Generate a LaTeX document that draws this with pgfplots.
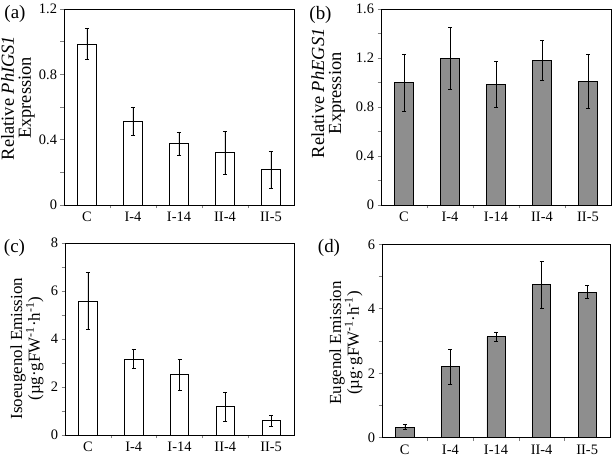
\documentclass[border=0pt]{standalone}
\usepackage{fontspec}
\setmainfont{Liberation Serif}
\usepackage{pgfplots}
\pgfplotsset{compat=1.18}
\definecolor{barg}{RGB}{142,142,142}
\pgfplotsset{
  panel/.style={
    scale only axis, anchor=south west,
    xmin=-0.5, xmax=4.5, ymin=0,
    xtick={0,1,2,3,4},
    xticklabels={C,I-4,I-14,II-4,II-5},
    minor x tick num=1,
    major x tick style={draw=none},
    tick align=outside, tick pos=left,
    major tick length=3.5bp, minor tick length=3.5bp,
    tick style={line width=0.6bp},
    axis line style={line width=0.7bp},
    ticklabel style={font=\fontsize{14.5}{16}\selectfont},
    /pgf/number format/assume math mode=true,
    /pgf/number format/fixed,
    every axis y label/.style={rotate=90, anchor=center, align=center,
      font=\fontsize{17}{18}\selectfont},
  },
  ebar/.style={ybar, bar width=0.4, draw=black, line width=0.7bp,
    error bars/.cd, y dir=both, y explicit,
    error bar style={line width=0.6bp, black},
    error mark options={rotate=90, mark size=2bp, line width=0.6bp, black}},
}
\begin{document}
\begin{tikzpicture}
\useasboundingbox (0bp,0bp) rectangle (615bp,459bp);
% (a)
\begin{axis}[panel, at={(64bp,254bp)}, width=230bp, height=196bp,
  ymax=1.2, ytick={0,0.4,0.8,1.2}, minor y tick num=1,
  ylabel={Relative \textit{PhIGS1}\\Expression},
  every axis y label/.append style={at={(axis description cs:-0.2,0.546)},
    font=\fontsize{18.5}{17}\selectfont}]
\addplot[fill=white, ebar] coordinates {
  (0,0.985) +- (0,0.095)
  (1,0.514) +- (0,0.087)
  (2,0.375) +- (0,0.072)
  (3,0.320) +- (0,0.130)
  (4,0.216) +- (0,0.115)
};
\end{axis}
% (b)
\begin{axis}[panel, at={(381bp,254bp)}, width=230bp, height=196bp,
  ymax=1.6, ytick={0,0.4,0.8,1.2,1.6}, minor y tick num=1,
  ylabel={Relative \textit{PhEGS1}\\Expression},
  every axis y label/.append style={at={(axis description cs:-0.23,0.57)},
    font=\fontsize{18.5}{17}\selectfont}]
\addplot[fill=barg, ebar] coordinates {
  (0,1.001) +- (0,0.233)
  (1,1.197) +- (0,0.253)
  (2,0.985) +- (0,0.185)
  (3,1.181) +- (0,0.165)
  (4,1.010) +- (0,0.220)
};
\end{axis}
% (c)
\begin{axis}[panel, at={(65bp,24bp)}, width=229bp, height=192bp,
  ymax=8, ytick={0,2,4,6,8}, minor y tick num=1,
  ylabel={Isoeugenol Emission\\(µg·gFW\textsuperscript{-1}·h\textsuperscript{-1})},
  every axis y label/.append style={at={(axis description cs:-0.166,0.45)}}]
\addplot[fill=white, ebar] coordinates {
  (0,5.58) +- (0,1.19)
  (1,3.16) +- (0,0.40)
  (2,2.52) +- (0,0.64)
  (3,1.19) +- (0,0.60)
  (4,0.61) +- (0,0.23)
};
\end{axis}
% (d)
\begin{axis}[panel, at={(382bp,21.3bp)}, width=228bp, height=193.4bp,
  ymax=6, ytick={0,2,4,6}, minor y tick num=1,
  ylabel={Eugenol Emission\\(µg·gFW\textsuperscript{-1}·h\textsuperscript{-1})},
  every axis y label/.append style={at={(axis description cs:-0.158,0.49)}}]
\addplot[fill=barg, ebar] coordinates {
  (0,0.33) +- (0,0.08)
  (1,2.20) +- (0,0.53)
  (2,3.13) +- (0,0.15)
  (3,4.75) +- (0,0.72)
  (4,4.52) +- (0,0.20)
};
\end{axis}
\node[font=\fontsize{19}{20}\selectfont] at (15bp,445bp) {(a)};
\node[font=\fontsize{19}{20}\selectfont] at (320.5bp,444.5bp) {(b)};
\node[font=\fontsize{19}{20}\selectfont] at (14.5bp,211.5bp) {(c)};
\node[font=\fontsize{19}{20}\selectfont] at (329bp,211.5bp) {(d)};
\end{tikzpicture}
\end{document}
